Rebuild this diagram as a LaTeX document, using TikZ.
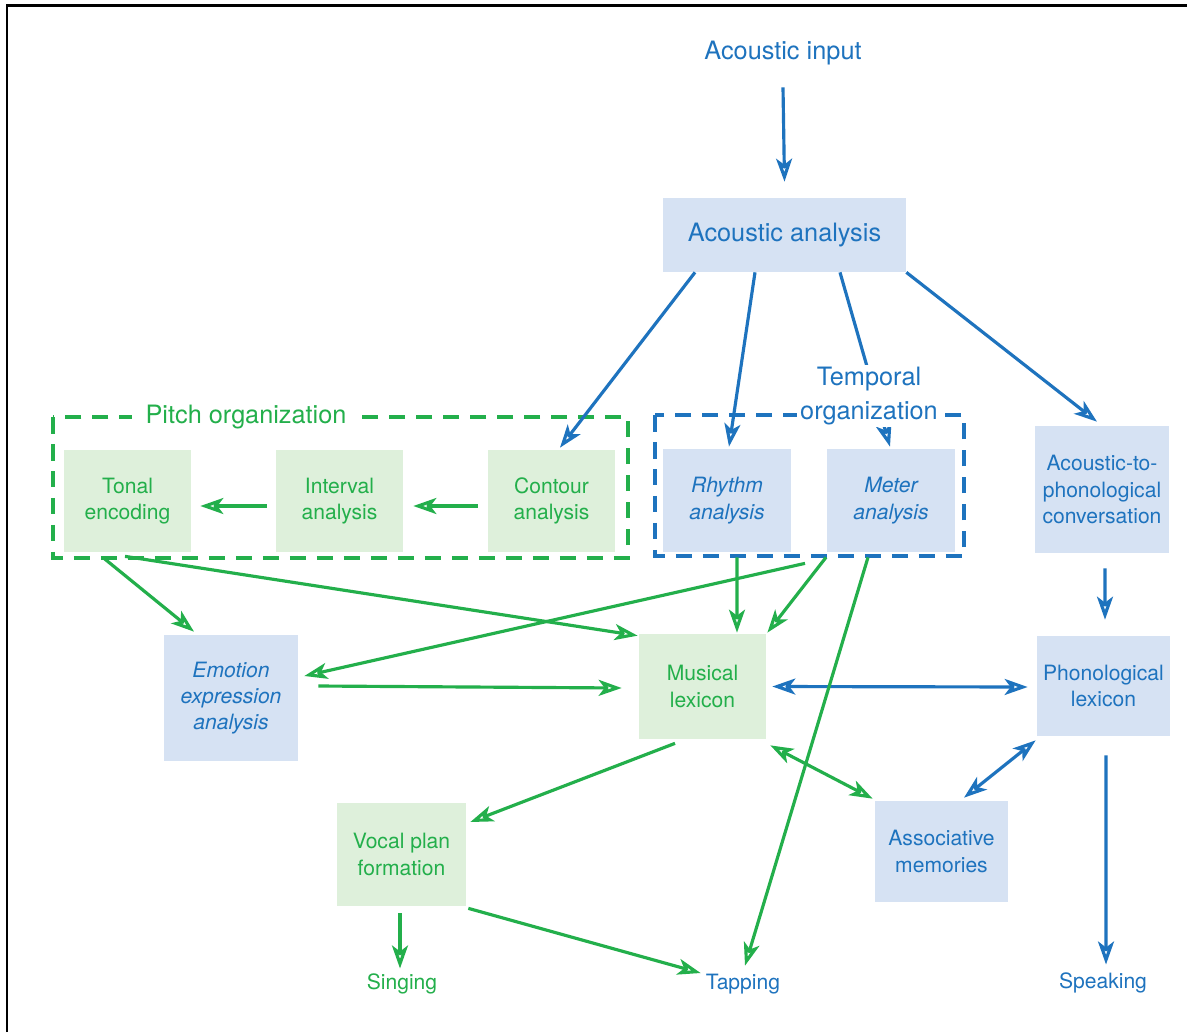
\documentclass[tikz,border=0pt]{standalone}
\usepackage{fontspec}
\setmainfont{TeX Gyre Heros}
\usetikzlibrary{arrows.meta,calc}
\definecolor{tblue}{RGB}{30,115,190}
\definecolor{tgreen}{RGB}{35,175,75}
\definecolor{fblue}{RGB}{214,226,243}
\definecolor{fgreen}{RGB}{222,240,219}
\begin{document}
\begin{tikzpicture}[x=0.02cm,y=-0.02cm,
  box/.style={inner sep=0pt, align=center, font=\fontsize{12}{15}\selectfont},
  sz/.style 2 args={minimum width=#1*0.02cm, minimum height=#2*0.02cm},
  bbox/.style={box, fill=fblue, text=tblue},
  gbox/.style={box, fill=fgreen, text=tgreen},
  big/.style={font=\fontsize{14.4}{17.6}\selectfont, align=center, inner sep=0pt},
  lab/.style={font=\fontsize{12}{15}\selectfont, inner sep=0pt},
  tipa/.style={-{Stealth[open,length=0.46cm,width=0.32cm,inset=0.12cm]}},
  tipb/.style={{Stealth[open,length=0.46cm,width=0.32cm,inset=0.12cm]}-{Stealth[open,length=0.46cm,width=0.32cm,inset=0.12cm]}},
  barr/.style={tipa, draw=tblue, line width=1.8pt},
  garr/.style={tipa, draw=tgreen, line width=1.8pt},
  bdbl/.style={tipb, draw=tblue, line width=1.8pt},
  gdbl/.style={tipb, draw=tgreen, line width=1.8pt},
  grp/.style={dash pattern=on 0.33cm off 0.21cm, line width=2pt},
]
\useasboundingbox (0,0) rectangle (1187,1032);
\fill[white] (0,0) rectangle (1187,1032);
\draw[line width=0.06cm, black] (7,1032) -- (7,5) -- (1187,5);

% group frames
\draw[grp, draw=tgreen] (53,417) rectangle (628,558);
\draw[grp, draw=tblue] (655,415) rectangle (964,556);

% nodes
\node[big, text=tblue] (in) at (783,53) {Acoustic input};
\node[bbox, sz={243}{74}, font=\fontsize{14.4}{17.6}\selectfont] (aa) at (784.5,235) {Acoustic analysis};
\node[gbox, sz={127}{102}] (te) at (127.5,501) {Tonal\\encoding};
\node[gbox, sz={127}{102}] (ia) at (339.5,501) {Interval\\analysis};
\node[gbox, sz={127}{102}] (ca) at (551.5,501) {Contour\\analysis};
\node[bbox, sz={128}{103}, font=\fontsize{12}{15}\selectfont\itshape] (ra) at (727,500.5) {Rhythm\\analysis};
\node[bbox, sz={128}{103}, font=\fontsize{12}{15}\selectfont\itshape] (ma) at (891,500.5) {Meter\\analysis};
\node[bbox, sz={134}{127}] (atp) at (1102,489.5) {Acoustic-to-\\phonological\\conversation};
\node[bbox, sz={133}{100}] (pl) at (1103.5,686) {Phonological\\lexicon};
\node[gbox, sz={127}{105}] (ml) at (702.5,686.5) {Musical\\lexicon};
\node[bbox, sz={134}{126}, font=\fontsize{12}{15}\selectfont\itshape] (emo) at (231,698) {Emotion\\expression\\analysis};
\node[gbox, sz={129}{103}] (vp) at (401.5,854.5) {Vocal plan\\formation};
\node[bbox, sz={133}{101}] (am) at (941.5,851.5) {Associative\\memories};
\node[lab, text=tgreen] (sing) at (402,984) {Singing};
\node[lab, text=tblue] (tap) at (743,984) {Tapping};
\node[lab, text=tblue] (speak) at (1103,983) {Speaking};

% blue connectors
\draw[barr] ($(in.south)+(0,22)$) -- ($(aa.north)+(0,-16)$);
\draw[barr] ($(aa.south)+(-89.5,0)$) -- ($(ca.north)+(8.5,-2)$);
\draw[barr] ($(aa.south)+(-29.5,0)$) -- ($(ra.north)+(2,-2)$);
\draw[barr] ($(aa.south)+(55.5,0)$) -- ($(ma.north)+(-1,-2)$);
\draw[barr] (aa.south east) -- ($(atp.north)+(-5,-4)$);
\draw[barr] ($(atp.south)+(3,15)$) -- ($(pl.north)+(1.5,-16)$);
\draw[barr] ($(pl.south)+(2.5,19)$) -- ($(speak.north)+(3,-8)$);
\draw[bdbl] ($(ml.east)+(6,0)$) -- ($(pl.west)+(-9,1)$);
\draw[bdbl] ($(pl.south west)+(-1,4)$) -- ($(am.north)+(22.5,-3)$);

% green connectors
\draw[garr] ($(ia.west)+(-9,5)$) -- ($(te.east)+(9,5)$);
\draw[garr] ($(ca.west)+(-10,5)$) -- ($(ia.east)+(10,5)$);
\draw[garr] ($(te.south)+(-23.5,6)$) -- ($(emo.north)+(-37,-3)$);
\draw[garr] ($(te.south)+(-2.5,4)$) -- ($(ml.north west)+(-1,2)$);
\draw[garr] ($(ma.south)+(-86,11)$) -- ($(emo.east)+(6,-22)$);
\draw[garr] ($(emo.east)+(20,-12)$) -- ($(ml.west)+(-17,1.5)$);
\draw[garr] ($(ra.south)+(10,5)$) -- ($(ml.north)+(34.5,-1)$);
\draw[garr] ($(ma.south)+(-65,5)$) -- ($(ml.north east)+(1,-1)$);
\draw[garr] ($(ml.south)+(-27.5,4)$) -- ($(vp.east)+(4,-32.5)$);
\draw[gdbl] ($(ml.south east)+(4,6)$) -- ($(am.north west)+(-2,-2)$);
\draw[garr] ($(vp.south)+(-1.5,7)$) -- ($(sing.north)+(-2,-5)$);
\draw[garr] ($(vp.south east)+(2,2)$) -- ($(tap.west)+(-5,-11)$);
\draw[garr] ($(ma.south)+(-23,5)$) -- ($(tap.north)+(2,-8)$);

% group labels
\node[big, text=tgreen, fill=white, inner xsep=8pt, inner ysep=1pt] (po) at (246,417) {Pitch organization};
\node[big, text=tblue, fill=white, inner xsep=2pt, inner ysep=1pt] (to) at (869,396) {Temporal\\[1.5pt]organization};
\end{tikzpicture}
\end{document}
